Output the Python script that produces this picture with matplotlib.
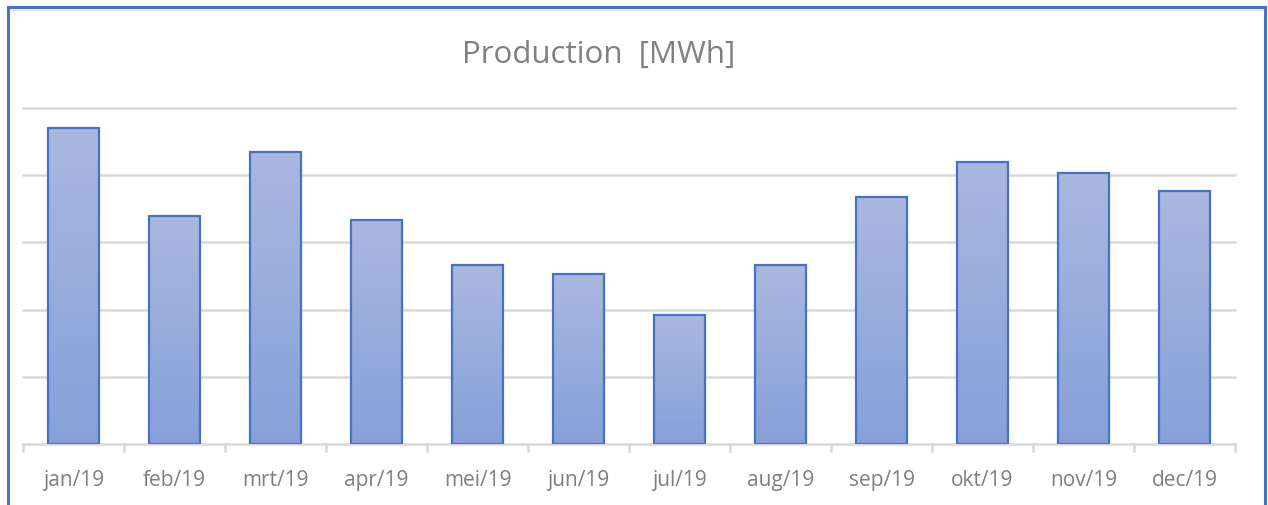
import matplotlib
matplotlib.use("Agg")
import matplotlib.pyplot as plt
import numpy as np
from matplotlib.lines import Line2D

months = ["jan/19", "feb/19", "mrt/19", "apr/19", "mei/19", "jun/19",
          "jul/19", "aug/19", "sep/19", "okt/19", "nov/19", "dec/19"]
production = [470, 340, 435, 333, 267, 253, 192, 266, 368, 420, 403, 376]
gridlines = [100, 200, 300, 400, 500]

W, H = 1268, 505
fig = plt.figure(figsize=(W / 100, H / 100), dpi=100)
ax = fig.add_axes([23 / W, (H - 444) / H, (1235 - 23) / W, (444 - 108) / H])

x = np.arange(len(months))
bars = ax.bar(x, production, width=0.5, color="none", edgecolor="#4472C4",
              linewidth=1.6, zorder=3)

# vertical gradient fill inside each bar
top_c = np.array([170, 184, 223]) / 255
bot_c = np.array([135, 160, 217]) / 255
for b in bars:
    bx, by = b.get_x(), b.get_y()
    bw, bh = b.get_width(), b.get_height()
    t = np.linspace(0, 1, 256)[:, None]
    grad = (top_c[None, :] * (1 - t) + bot_c[None, :] * t)[:, None, :]
    im = ax.imshow(grad, extent=[bx, bx + bw, by, by + bh], aspect="auto",
                   origin="upper", zorder=2, interpolation="bilinear")
    im.set_clip_path(b)

ax.set_xlim(-0.5, len(months) - 0.5)
ax.set_ylim(0, 500)
for g in gridlines:
    ax.axhline(g, color="#d9d9d9", linewidth=1.8, zorder=1, clip_on=False)

for s in ["top", "right", "left"]:
    ax.spines[s].set_visible(False)
ax.spines["bottom"].set_color("#d9d9d9")
ax.spines["bottom"].set_linewidth(1.8)
ax.set_yticks([])
ax.set_xticks(x)
ax.set_xticklabels(months, fontsize=15, color="#7f7f7f", family="Open Sans")
ax.tick_params(axis="x", length=0, pad=19)
for b in np.arange(len(months) + 1) - 0.5:
    ax.plot([b, b], [0, -11], color="#d9d9d9", linewidth=1.8,
            clip_on=False, zorder=1)

fig.text(599 / W, 1 - 55 / H, "Production  [MWh]", ha="center", va="center",
         fontsize=22.5, color="#808080", family="Open Sans")

# outer frame
fig.add_artist(Line2D([8 / W, 8 / W], [0, 1 - 7 / H], transform=fig.transFigure,
                      color="#4472C4", linewidth=2.2))
fig.add_artist(Line2D([8 / W, 1265 / W], [1 - 7 / H, 1 - 7 / H], transform=fig.transFigure,
                      color="#4472C4", linewidth=2.2))
fig.add_artist(Line2D([1265 / W, 1265 / W], [0, 1 - 7 / H], transform=fig.transFigure,
                      color="#4472C4", linewidth=2.2))
fig.add_artist(Line2D([10 / W, 1263 / W], [1 - 10 / H, 1 - 10 / H], transform=fig.transFigure,
                      color="#e4e4e4", linewidth=1.0))

fig.savefig("out.png", dpi=100)
